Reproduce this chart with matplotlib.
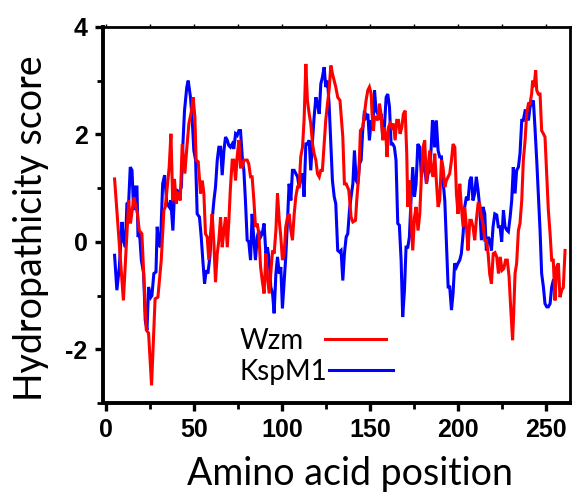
"""
Hydropathicity profile of Wzm and KspM1 along the amino acid sequence.

Outputs:
    out.png
"""

from __future__ import annotations

import matplotlib

matplotlib.use("Agg")
import matplotlib.pyplot as plt
from matplotlib.ticker import MultipleLocator

# Wzm hydropathicity (amino acid position, score)
wzm_pos = [
    5, 10, 13, 14, 16, 18, 19, 20.5, 23, 24.3, 26, 28, 29.6, 31.5, 33, 33.8, 36, 37, 38, 39, 40, 41, 42.3,
    43.4, 44.9, 46.2, 47.2, 48.7, 49.6, 50.6, 51.3, 52.5, 53.8, 54.8, 55.7, 56.6, 57.6, 58.5, 59.5, 60.4,
    61.4, 62.3, 63.3, 64.2, 65.2, 66.1, 67.1, 68, 69, 69.9, 70.8, 71.8, 72.7, 73.7, 74.6, 75.6, 76.5,
    77.5, 78.4, 80.3, 81.2, 82.2, 83.1, 84.1, 85, 86, 86.9, 87.9, 88.8,
    89.9, 90.9, 91.8, 92.8, 93.7, 94.7, 95.6, 96.6, 97.5, 98.5, 99.4, 100.3, 101.3, 102.2, 103.2, 104.1,
    105.1, 106, 107, 107.9, 108.9, 109.8, 110.7, 111.7, 112.6, 113.6, 114.5, 115.5, 116.4, 117.4, 118.3,
    119.3, 120.2, 121.2, 122.1, 123, 124, 124.9, 125.9, 126.8, 127.8, 128.7, 129.7, 130.6,
    131.7, 133, 134.6, 135.5, 136.5, 138, 139.3, 140.3, 141.8, 142.5, 143.7, 144.6, 145.9, 146.9, 147.8,
    148.8, 149.7, 150.7, 151.2, 152, 152.6, 153.5, 154.5, 155.4, 156.3, 157.3, 158.2, 159.2, 159.7,
    160.5, 161.4, 162.4, 163.3, 164.3, 165.2, 166.2, 167.1, 168.1, 169, 170, 170.9, 171.5, 172.4, 173.4,
    174.3, 175.3, 176.2,
    177.3, 178.3, 179.2, 180.2, 181.1, 182.1, 183, 184, 184.9, 185.9, 186.8, 187.7, 188.7, 189.6, 190.6,
    191.5, 192.5, 193.4, 194.4, 195.3, 196.3, 197.2, 198.2, 199.1, 200, 201, 201.9, 202.9, 203.8, 204.8,
    205.7, 206.7, 207.6, 208.5, 209.5, 210.4, 211.4, 212.3, 213.3, 214.2, 215.2, 216.1, 217.1, 218, 219,
    220, 221, 222, 223, 224, 225, 226, 227, 228, 229, 230, 231, 231.6, 232.4, 233.3, 234.3, 235.2, 236.2,
    237.1, 238.1, 239, 240, 240.9, 241.8, 242.4, 243.2, 244.1, 244.7, 245.6, 246.6, 247.5, 248.5, 249.4,
    250.4, 251.3, 252.3, 253.2, 254.1, 255.1, 256, 257, 257.9, 258.9, 259.8, 260.8,
]
wzm_score = [
    1.17, -1.09, 0.77, 0.34, 0.83, 0.52, 0.21, 0.15, -1.64, -1.70, -2.67, -1.06, -1.03, -0.34, 0.59, 0.65,
    1.39, 2.01, 0.77, 1.17, 0.71, 0.93, 0.77,
    1.82, 1.27, 1.82, 2.20, 2.44, 2.69, 2.32, 1.52, 1.49, 0.90, 1.14, 0.90, 0.15, 0.09, -0.34, 0.15, 0.52,
    -0.03, -0.75, -0.22, 0.03, 0.46, -0.10, 0.21, 0.46, -0.10, 0.40, 1.02, 1.52, 1.52, 1.14, 1.58, 1.89,
    1.39, 1.39, 1.52, 1.52, 1.45, 1.21, 1.21, 0.77, 0.28, 0.34, 0.15, -0.47, -0.71,
    -0.96, -0.22, -0.65, -0.96, -0.59, -0.16, -0.22, 0.21, 0.90, 0.40, 0.09, -0.34, -0.22, 0.28, 0.46,
    0.52, 0.21, 0.03, 0.52, 0.84, 1.02, 1.02, 1.58, 1.76, 2.26, 3.31, 2.63, 2.38, 2.20, 1.82, 1.64, 1.52,
    1.27, 1.21, 1.33, 1.33, 1.82, 2.26, 2.57, 2.82, 3.28, 3.13, 3.00, 2.88,
    2.69, 2.63, 1.95, 1.08, 1.08, 0.96, 0.46, 0.37, 0.40, 0.77, 1.27, 2.07, 2.13, 2.38, 2.63, 2.82, 2.88,
    2.75, 2.38, 2.07, 2.32, 2.32, 2.26, 2.57, 2.38, 1.89, 2.13, 1.89, 1.58, 2.13, 2.20, 2.13, 2.20, 1.89,
    2.26, 2.26, 2.01, 2.13, 2.38, 2.44, 1.64, 0.65, 1.14, 0.40, -0.16, 0.46, 0.65,
    0.21, 0.52, 1.21, 1.76, 1.89, 1.08, 1.39, 1.70, 1.33, 1.21, 1.64, 1.14, 0.65, 0.77, 1.52, 1.39, 1.02,
    1.14, 1.21, 1.27, 1.52, 1.82, 1.76, 0.90, 0.52, 1.08, 0.65, 0.28, 0.65, 0.28, -0.16, 0.40, 0.40, 0.28,
    0.03, 0.40, 0.71, 0.71, 0.46, 0.34, 0.03, 0.03, -0.22, -0.60, -0.78, -0.22, -0.20, -0.28, -0.59,
    -0.28, -0.53, -0.50, -0.34, -0.34, -0.65, -1.27, -1.83, -1.34, -0.59, -0.40, 0.21, 0.34, 0.77, 1.52,
    1.89, 2.38, 2.57, 2.57, 2.75, 3.00, 2.88, 3.19, 2.82, 2.75, 2.75, 2.07, 2.01, 1.95, 1.21, 0.59, 0.15,
    -0.34, -0.34, -1.09, -0.47, -0.40, -1.03, -0.90, -0.85, -0.16,
]

# KspM1 hydropathicity (amino acid position, score)
kspm1_pos = [
    5, 6.3, 7.7, 9.2, 10.1, 11.1, 12, 13, 13.9, 14.9, 15.8, 16.7, 17.7, 18.3, 19.2, 20.2, 21.5, 22.4,
    23.4, 24.3, 25.6, 26.2, 27.3, 28.5, 29.2, 30, 31, 32.3, 33.4, 34.7, 36, 36.9, 38.1, 39.1, 40.4, 41.7,
    42.9, 43.8, 44.7, 46,
    46.8, 48.1, 49.1, 50, 51, 51.9, 53.2, 54.2, 55.1, 56.1, 57, 58, 59.1, 60.4, 61.4, 62.3, 63.3, 64.2,
    65.2, 66.1, 67.1, 68, 69, 69.9, 70.8, 71.8, 72.7, 73.7, 74.6, 75.6, 76.5, 77.5, 78.4, 79.3, 80.3,
    81.2, 82.2, 83.1, 84.1, 85, 86, 86.9, 87.9, 88.8,
    89.9, 90.9, 91.8, 92.8, 93.7, 94.7, 95.6, 96.6, 97.5, 98.5, 99.4, 100.3, 101.3, 102.2, 103.2, 104.1,
    105.1, 106, 107, 107.9, 108.9, 109.8, 110.7, 111.7, 112.6, 113.6, 114.5, 115.5, 116.4, 117.4, 118.3,
    119.3, 120.2, 121.2, 122.1, 123, 124, 124.9, 125.9, 126.8, 127.8, 128.7, 129.7, 130.6,
    131.7, 132.7, 133.6, 134.6, 135.5, 136.5, 137.4, 138.4, 139.3, 140.3, 141.2, 142.2, 143.1, 144.1,
    145, 145.9, 146.9, 147.8, 148.8, 149.7, 150.7, 151.6, 152.6, 153.5, 154.5, 155.4, 156.4, 157.3, 158.2,
    159.2, 160.1, 161.1, 162, 163, 163.9, 164.8, 165.8, 166.7, 167.7, 168.6, 169.6, 170.5, 171.5, 172.4,
    173.4, 174.3, 175.3, 176.2, 177.2,
    178.3, 179.2, 180.2, 181.1, 182.1, 183, 184, 184.9, 185.5, 186.2, 186.8, 187.7, 188.7, 189.6, 190.6,
    191.5, 192.5, 193.4, 194.4, 195.3, 196.3, 197.2, 198.1, 199.1, 200, 201, 201.9, 202.9, 203.8, 204.8,
    205.7, 206.7, 207.6, 208.5, 209.5, 210.4, 211.4, 212.3, 213.3, 214.2, 215.2, 216.1, 217.1, 218, 219,
    219.9, 220.9,
    222, 222.9, 223.9, 224.8, 225.8, 226.7, 227.7, 228.6, 229.6, 230.5, 231.4, 232.4, 233.3, 234.3,
    235.2, 236.2, 237.1, 238.1, 239, 240, 240.9, 241.8, 242.8, 243.7, 244.7, 245.6, 246.6, 247.5, 248.5,
    249.4, 250.4, 251.3, 252.3, 253.2, 254.1,
]
kspm1_score = [
    -0.25, -0.90, -0.47, 0.37, 0.03, -0.10, 0.71, 0.74, 1.39, 1.33, 0.59, 1.02, 1.02, 0.09, 0.15, -0.34,
    -0.59, -1.46, -1.64, -0.84, -1.03, -1.00, -0.59, -0.56, 0.28, -0.03, -0.10, 1.08, 1.24, 0.71, 0.65,
    0.77, 0.21, 0.96, 0.96, 0.90, 1.02, 1.82, 2.44, 2.88,
    3.00, 2.69, 2.26, 1.70, 1.52, 0.52, 0.46, 0.09, -0.34, -0.78, -0.53, -0.59, -0.28, 0.40, 0.77, 1.02,
    1.52, 1.76, 1.76, 1.24, 1.70, 1.95, 1.89, 1.79, 1.76, 1.82, 1.73, 2.01, 1.98, 2.07, 2.07, 1.58, 1.33,
    0.77, 0.03, 0.00, -0.34, 0.52, 0.03, -0.34, 0.09, 0.21, 0.09, 0.15,
    0.34, -0.22, -0.10, -0.34, -0.84, -0.96, -1.33, -0.59, -0.28, -0.59, -0.47, -1.24, -0.72, -0.28, 0.40,
    1.08, 0.77, 1.33, 1.33, 1.27, 1.21, 1.02, 1.21, 1.27, 0.84, 1.82, 1.82, 1.89, 1.33, 1.89, 2.32, 2.69,
    2.57, 2.38, 2.94, 3.06, 3.25, 2.88, 3.00, 2.57, 1.82, 1.14, 0.84, 0.71,
    -0.16, -0.19, -0.16, -0.72, -0.22, 0.09, 0.15, 0.59, 0.84, 1.08, 1.70, 1.14, 1.08, 1.45, 1.52, 2.07,
    2.44, 2.32, 2.38, 1.89, 2.26, 2.13, 2.82, 2.44, 2.38, 2.32, 2.38, 1.95, 2.13, 2.69, 2.75, 2.51, 1.82,
    1.82, 1.76, 1.52, 0.34, 0.31, -0.34, -1.40, -0.90, -0.10, -0.10, 0.09, 0.84, 1.39, 0.84, 1.08, 1.82,
    1.76, 1.21, 1.52, 1.39, 1.08, 1.27, 1.33, 1.82, 2.26, 2.20, 1.76, 2.26, 1.70, 1.58, 1.58, 1.14, 0.77,
    0.03, -0.84, -0.84, -1.27, -0.96, -0.40, -0.47, -0.40, -0.34, -0.22, 0.15, 0.65, 0.84, 0.77, 1.14,
    1.21, 0.77, 0.90, 1.21, 0.96, 0.65, 0.03, 0.65, 0.52, -0.16, 0.09, 0.03, -0.16, 0.28, 0.52,
    0.50, 0.28, 0.28, 0.00, 0.59, 0.28, 0.22, 0.19, 0.46, 0.77, 1.39, 0.90, 1.33, 1.39, 1.64, 2.26, 2.26,
    2.44, 2.44, 2.26, 2.51, 2.57, 2.63, 2.13, 1.52, 0.90, 0.21, -0.59, -0.84, -1.15, -1.21, -1.21, -1.15,
    -0.84, -0.72,
]

x_major_ticks = [0, 50, 100, 150, 200, 250]
y_major_ticks = [-2, 0, 2, 4]

LABEL_FONT = ["Lato", "DejaVu Sans"]
TICK_FONT = ["Liberation Sans", "DejaVu Sans"]

plt.rcParams["axes.unicode_minus"] = False


def draw_profile(output_path: str) -> None:
    fig = plt.figure(figsize=(5.72, 4.97), dpi=100)
    ax = fig.add_axes([0.180, 0.189, 0.8165, 0.757])

    (kspm1_line,) = ax.plot(kspm1_pos, kspm1_score, color="#0000FF", lw=2.2, solid_joinstyle="miter")
    (wzm_line,) = ax.plot(wzm_pos, wzm_score, color="#FF0000", lw=2.2, solid_joinstyle="miter")

    ax.set_xlim(-1.6, 263.6)
    ax.set_ylim(-3.0, 4.0)
    ax.set_xticks(x_major_ticks)
    ax.set_yticks(y_major_ticks)
    ax.xaxis.set_minor_locator(MultipleLocator(25))
    ax.yaxis.set_minor_locator(MultipleLocator(1))

    for side in ["left", "bottom"]:
        ax.spines[side].set_linewidth(2.8)
    for side in ["top", "right"]:
        ax.spines[side].set_linewidth(2.0)

    ax.tick_params(axis="both", which="major", direction="out", length=6, width=2.4, pad=5)
    ax.tick_params(axis="both", which="minor", direction="out", length=4, width=2.0)
    ax.tick_params(axis="x", which="both", top=True, labeltop=False)
    for lab in ax.get_xticklabels() + ax.get_yticklabels():
        lab.set_family(TICK_FONT)
        lab.set_fontweight("bold")
        lab.set_fontsize(18)
    # top ticks are tiny in the original frame
    for tick in ax.xaxis.get_major_ticks() + ax.xaxis.get_minor_ticks():
        tick.tick2line.set_markersize(2.5)
        tick.tick2line.set_markeredgewidth(1.0)
        tick.tick2line.set_color("#888888")

    ax.set_xlabel("Amino acid position", family=LABEL_FONT, fontsize=27, labelpad=10)
    ax.set_ylabel("Hydropathicity score", family=LABEL_FONT, fontsize=27, labelpad=12)
    ax.xaxis.label.set_x(0.53)
    ax.yaxis.label.set_y(0.465)

    wzm_leg = ax.legend(
        [wzm_line], ["Wzm"], loc="center left", bbox_to_anchor=(0.293, 0.165),
        frameon=False, markerfirst=False, borderpad=0, borderaxespad=0,
        handlelength=2.2, handletextpad=0.75, prop={"family": LABEL_FONT, "size": 20},
    )
    ax.add_artist(wzm_leg)
    ax.legend(
        [kspm1_line], ["KspM1"], loc="center left", bbox_to_anchor=(0.293, 0.082),
        frameon=False, markerfirst=False, borderpad=0, borderaxespad=0,
        handlelength=2.3, handletextpad=0.05, prop={"family": LABEL_FONT, "size": 20},
    )

    fig.savefig(output_path, dpi=100)
    plt.close(fig)


def main() -> None:
    draw_profile("out.png")


if __name__ == "__main__":
    main()
